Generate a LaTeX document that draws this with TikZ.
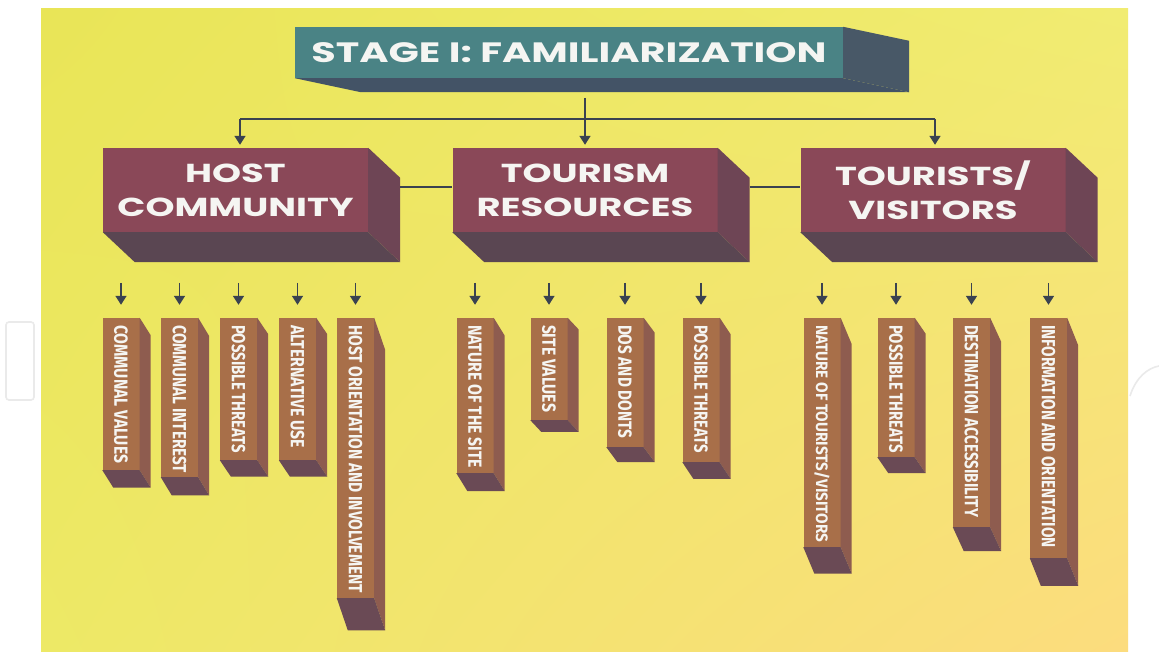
\documentclass[tikz,border=0pt]{standalone}
\usepackage{fontspec}
\usepackage{graphicx}
\usetikzlibrary{arrows.meta,calc,shadings}
\newfontfamily\headfont{Poppins}
\newfontfamily\barfont{Fira Sans}
\definecolor{bgA}{HTML}{E9E557}
\definecolor{bgB}{HTML}{F1EC72}
\definecolor{bgC}{HTML}{EDE966}
\definecolor{bgD}{HTML}{FCDC7E}
\definecolor{titlef}{HTML}{4A8385}
\definecolor{titles}{HTML}{485867}
\definecolor{titleb}{HTML}{435366}
\definecolor{hdrf}{HTML}{8A4858}
\definecolor{hdrs}{HTML}{6E4555}
\definecolor{hdrb}{HTML}{5A4652}
\definecolor{barf}{HTML}{A86F49}
\definecolor{bars}{HTML}{8E5C4F}
\definecolor{barb}{HTML}{6A4A55}
\definecolor{linec}{HTML}{3A4250}
\definecolor{txt}{HTML}{F5F5F2}
\definecolor{wm}{HTML}{EAEAEA}
\newcommand\hfont{\headfont\bfseries\fontsize{26}{34}\selectfont}
\newcommand\tfont{\headfont\bfseries\fontsize{28}{34}\selectfont}
\newcommand\hdr[1]{\scalebox{1.42}[1]{#1}}
% name, centre x, bottom y, text length, text
\newcommand\mkbar[5]{%
  \pgfmathsetmacro\mybarL{#3-318}%
  \pgfmathsetmacro\mybarD{0.115*(#3-318)}%
  \node[barfront, minimum height=\mybarL pt] (#1) at (#2,{(318+#3)/2})
    {\vbox to \mybarL pt{\vskip7pt\hbox{\rotatebox{-90}{\resizebox{#4pt}{13.5pt}{\barfont\bfseries #5}}}\vss}};
  \fill[bars] (#1.north east) -- ++(11,\mybarD) -- ([shift={(11,\mybarD)}]#1.south east) -- (#1.south east) -- cycle;
  \fill[barb] (#1.south west) -- (#1.south east) -- ++(11,\mybarD) -- ([shift={(11,\mybarD)}]#1.south west) -- cycle;
  \draw[arrow, shorten >=13pt] ([yshift=35pt]#1.north) -- (#1.north);
}
\begin{document}
\begin{tikzpicture}[x=1pt,y=-1pt,
  line/.style={draw=linec, line width=1.6pt},
  arrow/.style={line, -{Triangle[width=11pt,length=9pt]}},
  titlefront/.style={fill=titlef, minimum width=548pt, minimum height=51pt, inner sep=0pt, text=txt, font=\tfont},
  hdrfront/.style={fill=hdrf, minimum width=265pt, minimum height=84pt, inner sep=0pt, text=txt, font=\hfont, align=center},
  barfront/.style={fill=barf, minimum width=37pt, inner sep=0pt, text=txt},
  wmline/.style={draw=wm, line width=1.6pt}
]
\useasboundingbox (0,0) rectangle (1159,652);
\fill[white] (0,0) rectangle (1159,652);
% watermark traces in the margins
\draw[wmline, rounded corners=3pt] (6,322) rectangle (34,400);
\draw[wmline] (1130,396) .. controls (1136,377) and (1148,368) .. (1159,366);
% background panel
\shade[upper left=bgA, upper right=bgB, lower left=bgC, lower right=bgD] (41,9) rectangle (1128,652);

% title
\node[titlefront] (title) at (569,52.5) {\hdr{STAGE I: FAMILIARIZATION}};
\fill[titles] (title.north east) -- ++(66,14) -- ([shift={(66,14)}]title.south east) -- (title.south east) -- cycle;
\fill[titleb] (title.south west) -- (title.south east) -- ++(66,14) -- ([shift={(66,14)}]title.south west) -- cycle;

% headers
\node[hdrfront] (host) at (235.5,190) {\hdr{HOST}\\\hdr{COMMUNITY}};
\node[hdrfront] (tour) at (585,190) {\hdr{TOURISM}\\\hdr{RESOURCES}};
\node[hdrfront] (vis) at (933,190) {\hdr{TOURISTS/}\\\hdr{VISITORS}};
\foreach \n in {host,tour,vis}{
  \fill[hdrs] (\n.north east) -- ++(32,30) -- ([shift={(32,30)}]\n.south east) -- (\n.south east) -- cycle;
  \fill[hdrb] (\n.south west) -- (\n.south east) -- ++(32,30) -- ([shift={(32,30)}]\n.south west) -- cycle;
}

% connectors at the top
\coordinate (stem) at (585,98);
\coordinate (jl) at (240,119);
\coordinate (jr) at (935,119);
\draw[line] (jl) -- (jr);
\draw[arrow, shorten >=3pt] (stem) -- (tour.north);
\draw[arrow, shorten >=3pt] (jl) -- (jl |- host.north);
\draw[arrow, shorten >=3pt] (jr) -- (jr |- vis.north);
\draw[line] ([xshift=32pt,yshift=3pt]host.east) -- ([yshift=3pt]tour.west);
\draw[line] ([xshift=32pt,yshift=3pt]tour.east) -- ([yshift=3pt]vis.west);

% bars
\mkbar{c1}{121}{470}{138}{COMMUNAL VALUES}
\mkbar{c2}{179.5}{477}{148}{COMMUNAL INTEREST}
\mkbar{c3}{238.5}{460}{128}{POSSIBLE THREATS}
\mkbar{c4}{297.5}{460}{123}{ALTERNATIVE USE}
\mkbar{c5}{355.5}{598}{268}{HOST ORIENTATION AND INVOLVEMENT}
\mkbar{r1}{475}{473}{143}{NATURE OF THE SITE}
\mkbar{r2}{549}{420}{87}{SITE VALUES}
\mkbar{r3}{625}{447}{113}{DOS AND DONTS}
\mkbar{r4}{701}{462}{128}{POSSIBLE THREATS}
\mkbar{v1}{822}{547}{217}{NATURE OF TOURISTS/VISITORS}
\mkbar{v2}{896}{457}{128}{POSSIBLE THREATS}
\mkbar{v3}{971.5}{527}{192}{DESTINATION ACCESSIBILITY}
\mkbar{v4}{1048.5}{558}{223}{INFORMATION AND ORIENTATION}
\end{tikzpicture}
\end{document}
